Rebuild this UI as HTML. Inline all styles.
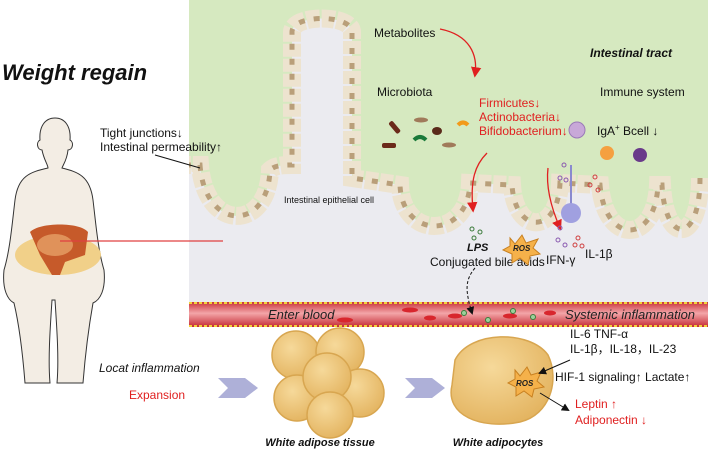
<!DOCTYPE html>
<html><head><meta charset="utf-8"><style>
body{margin:0;width:708px;height:451px;overflow:hidden;background:#fff;font-family:"Liberation Sans",sans-serif}
svg{display:block}
</style></head><body>
<svg width="708" height="451" viewBox="0 0 708 451" xmlns="http://www.w3.org/2000/svg" font-family="Liberation Sans, sans-serif">
<defs>
<linearGradient id="bl" x1="0" y1="0" x2="0" y2="1"><stop offset="0" stop-color="#c9323a"/><stop offset="0.45" stop-color="#f3a5a8"/><stop offset="1" stop-color="#c42a33"/></linearGradient>
<radialGradient id="fat" cx="0.4" cy="0.35" r="0.7"><stop offset="0" stop-color="#f6d99a"/><stop offset="1" stop-color="#e3b35f"/></radialGradient>
<marker id="ra" markerWidth="8" markerHeight="8" refX="6" refY="4" orient="auto"><path d="M0,0 L8,4 L0,8 Z" fill="#e02020"/></marker>
<marker id="ka" markerWidth="8" markerHeight="8" refX="6" refY="4" orient="auto"><path d="M0,0 L8,4 L0,8 Z" fill="#111"/></marker>
</defs>
<rect x="189" y="0" width="519" height="302" fill="#ebebf0"/>
<path d="M189,0 H708 V178 H700 C700,245 665,245 662,185 L658,185 C655,245 605,245 600,185 L560,183 C558,235 515,235 512,185 L470,183 C468,240 402,240 400,185 L352,178 L352,32 C352,14 292,14 292,32 L292,165 C285,165 275,165 270,170 C268,232 205,232 200,165 L189,165 Z" fill="#d6e9c0"/>
<path d="M700,178 C700,245 665,245 662,185 L658,185 C655,245 605,245 600,185 L560,183 C558,235 515,235 512,185 L470,183 C468,240 402,240 400,185 L352,178 L352,32 C352,14 292,14 292,32 L292,165 C285,165 275,165 270,170 C268,232 205,232 200,165 L189,165" fill="none" stroke="#ede3cf" stroke-width="18" stroke-dasharray="13 2"/>
<path d="M700,178 C700,245 665,245 662,185 L658,185 C655,245 605,245 600,185 L560,183 C558,235 515,235 512,185 L470,183 C468,240 402,240 400,185 L352,178 L352,32 C352,14 292,14 292,32 L292,165 C285,165 275,165 270,170 C268,232 205,232 200,165 L189,165" fill="none" stroke="#b99f7a" stroke-width="5" stroke-dasharray="6 9"/>
<rect x="189" y="302" width="519" height="25" fill="url(#bl)"/>
<line x1="189" y1="303" x2="708" y2="303" stroke="#f2d23a" stroke-width="2" stroke-dasharray="3 2"/>
<line x1="189" y1="326" x2="708" y2="326" stroke="#f2d23a" stroke-width="2" stroke-dasharray="3 2"/>
<g fill="#d8262d"><ellipse cx="345" cy="320" rx="8" ry="2.5"/><ellipse cx="410" cy="310" rx="8" ry="2.5"/><ellipse cx="430" cy="318" rx="6" ry="2.5"/><ellipse cx="455" cy="316" rx="7" ry="2.5"/><ellipse cx="510" cy="316" rx="7" ry="2.5"/><ellipse cx="550" cy="313" rx="6" ry="2.5"/></g>
<g fill="#9bd09b" stroke="#3a7a3a"><circle cx="464" cy="313" r="2.5"/><circle cx="488" cy="320" r="2.5"/><circle cx="513" cy="311" r="2.5"/><circle cx="533" cy="317" r="2.5"/></g>
<text x="268" y="319" font-size="13" font-style="italic" fill="#222">Enter blood</text>
<text x="565" y="319" font-size="13" font-style="italic" fill="#222">Systemic inflammation</text>
<path d="M55,118 C44,118 39,128 40,140 C36,142 37,150 42,150 C44,160 48,165 48,168 C30,172 18,176 15,200 C12,225 10,250 4,270 C2,290 8,300 14,303 C18,320 22,345 25,383 L50,383 C48,360 50,330 52,300 L55,300 C57,330 59,360 57,383 L83,383 C86,345 90,320 93,303 C100,300 106,290 104,270 C98,250 96,225 93,200 C90,176 78,172 62,168 C63,165 67,160 68,150 C73,150 74,142 70,140 C71,128 66,118 55,118 Z" fill="#f3ede4" stroke="#333" stroke-width="1"/>
<ellipse cx="58" cy="255" rx="43" ry="20" fill="#f1d089"/>
<path d="M30,232 C40,222 80,222 88,232 L85,255 L65,262 L60,275 L52,275 L40,255 Z" fill="#c65a2a"/>
<ellipse cx="55" cy="245" rx="18" ry="11" fill="#e0925a"/>
<line x1="60" y1="241" x2="223" y2="241" stroke="#e04040" stroke-width="1.2"/>
<text x="2" y="80" font-size="22" font-weight="bold" font-style="italic" fill="#111">Weight regain</text>
<text x="100" y="137" font-size="12" fill="#111">Tight junctions↓</text>
<text x="100" y="151" font-size="12" fill="#111">Intestinal permeability↑</text>
<line x1="155" y1="155" x2="200" y2="168" stroke="#111" stroke-width="1"/>
<text x="99" y="372" font-size="12" font-style="italic" fill="#111">Locat inflammation</text>
<text x="129" y="399" font-size="12" fill="#e02020">Expansion</text>
<text x="374" y="37" font-size="12" fill="#111">Metabolites</text>
<text x="590" y="57" font-size="12" font-weight="bold" font-style="italic" fill="#111">Intestinal tract</text>
<text x="377" y="96" font-size="12" fill="#111">Microbiota</text>
<text x="600" y="96" font-size="12" fill="#111">Immune system</text>
<text x="479" y="107" font-size="12" fill="#e02020">Firmicutes↓</text>
<text x="479" y="121" font-size="12" fill="#e02020">Actinobacteria↓</text>
<text x="479" y="135" font-size="12" fill="#e02020">Bifidobacterium↓</text>
<text x="597" y="135" font-size="12" fill="#111">IgA<tspan font-size="8" dy="-5">+</tspan><tspan dy="5"> Bcell ↓</tspan></text>
<text x="284" y="203" font-size="9" fill="#111">Intestinal epithelial cell</text>
<text x="467" y="251" font-size="11" font-weight="bold" font-style="italic" fill="#111">LPS</text>
<text x="430" y="266" font-size="12" fill="#111">Conjugated bile acids</text>
<text x="546" y="264" font-size="12" fill="#111">IFN-γ</text>
<text x="585" y="258" font-size="12" fill="#111">IL-1β</text>
<path d="M440,29 C470,35 478,55 475,75" fill="none" stroke="#e02020" stroke-width="1.3" marker-end="url(#ra)"/>
<path d="M487,153 C475,165 470,180 473,210" fill="none" stroke="#e02020" stroke-width="1.3" marker-end="url(#ra)"/>
<path d="M548,168 C546,185 550,205 560,228" fill="none" stroke="#e02020" stroke-width="1.3" marker-end="url(#ra)"/>
<path d="M475,268 C465,280 465,290 472,313" fill="none" stroke="#111" stroke-width="1" stroke-dasharray="3 2" marker-end="url(#ka)"/>
<rect x="388" y="125" width="14" height="5" rx="2" fill="#6b2a1a" transform="rotate(50 395 127)"/>
<rect x="382" y="143" width="14" height="5" rx="2" fill="#6b2a1a"/>
<ellipse cx="437" cy="131" rx="5" ry="4" fill="#5a2a1a"/>
<path d="M414,140 q6,-6 12,0" stroke="#1a7a3a" stroke-width="4" fill="none"/>
<path d="M458,125 q5,-5 10,0" stroke="#f29a1a" stroke-width="4" fill="none"/>
<ellipse cx="421" cy="120" rx="7" ry="2.5" fill="#a07a5a"/>
<ellipse cx="449" cy="145" rx="7" ry="2.5" fill="#a07a5a"/>
<circle cx="577" cy="130" r="8" fill="#c8a8d8" stroke="#9a7ab8"/>
<circle cx="607" cy="153" r="7" fill="#f5a040"/>
<circle cx="640" cy="155" r="7" fill="#6a3a8a"/>
<line x1="571" y1="165" x2="571" y2="205" stroke="#8a8acf" stroke-width="2"/>
<circle cx="571" cy="213" r="10" fill="#a0a0e0"/>
<g fill="none" stroke="#8a5ab0"><circle cx="564" cy="165" r="2"/><circle cx="560" cy="178" r="2"/><circle cx="566" cy="180" r="2"/><circle cx="560" cy="228" r="2"/><circle cx="558" cy="240" r="2"/><circle cx="565" cy="245" r="2"/></g>
<g fill="none" stroke="#d04040"><circle cx="595" cy="177" r="2"/><circle cx="590" cy="185" r="2"/><circle cx="598" cy="190" r="2"/><circle cx="578" cy="238" r="2"/><circle cx="575" cy="245" r="2"/><circle cx="582" cy="246" r="2"/></g>
<g fill="none" stroke="#3a7a3a"><circle cx="472" cy="229" r="2"/><circle cx="480" cy="232" r="2"/><circle cx="474" cy="238" r="2"/></g>
<polygon points="510,238 515,244 522,235 526,243 538,239 533,248 540,254 530,256 528,265 520,258 512,263 512,254 503,250 510,246" fill="#f5b14a" stroke="#c88020"/>
<text x="513" y="251" font-size="8" font-weight="bold" font-style="italic" fill="#222">ROS</text>
<path d="M218,378 L245,378 L258,388 L245,398 L218,398 L228,388 Z" fill="#aeb0d8"/><path d="M405,378 L432,378 L445,388 L432,398 L405,398 L415,388 Z" fill="#aeb0d8"/>
<g stroke="#d8a650" stroke-width="1.5" fill="url(#fat)">
<circle cx="296" cy="355" r="24"/><circle cx="340" cy="352" r="24"/><circle cx="360" cy="393" r="24"/><circle cx="297" cy="398" r="23"/><circle cx="327" cy="377" r="24"/><circle cx="330" cy="415" r="23"/>
<path d="M455,360 C470,330 530,330 548,355 C560,380 550,415 520,422 C480,430 445,415 452,385 Z"/>
</g>
<polygon points="515,370 520,376 527,367 531,375 541,372 537,381 544,387 534,389 532,397 524,391 516,396 516,387 508,383 515,379" fill="#f5b14a" stroke="#c88020"/>
<text x="516" y="386" font-size="8" font-weight="bold" font-style="italic" fill="#222">ROS</text>
<line x1="570" y1="360" x2="540" y2="373" stroke="#111" marker-end="url(#ka)"/>
<line x1="540" y1="393" x2="568" y2="410" stroke="#111" marker-end="url(#ka)"/>
<text x="570" y="338" font-size="12" fill="#111">IL-6 TNF-α</text>
<text x="570" y="353" font-size="12" fill="#111">IL-1β，IL-18，IL-23</text>
<text x="555" y="381" font-size="12" fill="#111">HIF-1 signaling↑ Lactate↑</text>
<text x="575" y="408" font-size="12" fill="#e02020">Leptin ↑</text>
<text x="575" y="424" font-size="12" fill="#e02020">Adiponectin ↓</text>
<text x="320" y="446" font-size="11" font-weight="bold" font-style="italic" fill="#111" text-anchor="middle">White adipose tissue</text>
<text x="498" y="446" font-size="11" font-weight="bold" font-style="italic" fill="#111" text-anchor="middle">White adipocytes</text>
</svg>
</body></html>
